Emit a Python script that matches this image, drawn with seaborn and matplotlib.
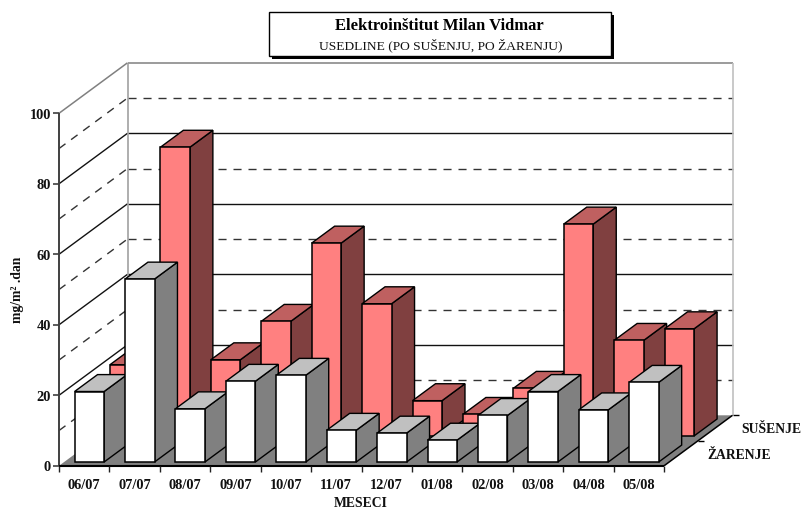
import matplotlib
matplotlib.use("Agg")
import matplotlib.pyplot as plt
from matplotlib.patches import Polygon, Rectangle
import pandas as pd
import seaborn as sns

months = ["06/07", "07/07", "08/07", "09/07", "10/07", "11/07",
          "12/07", "01/08", "02/08", "03/08", "04/08", "05/08"]
susenje = [20.2, 81.9, 21.6, 32.5, 54.7, 37.5, 10.0, 6.1, 13.5, 60.1, 27.1, 30.4]
zarenje = [20.0, 51.9, 15.1, 22.9, 24.6, 9.0, 8.2, 6.2, 13.2, 20.0, 14.8, 22.6]
y_major = [0, 20, 40, 60, 80, 100]
y_minor = [10, 30, 50, 70, 90]
series_names = ["SUŠENJE", "ŽARENJE"]
title = "Elektroinštitut Milan Vidmar"
subtitle = "USEDLINE (PO SUŠENJU, PO ŽARENJU)"
xlabel = "MESECI"
ylabel = "mg/m² .dan"

sns.set_theme(style="white")
plt.rcParams["font.family"] = ["Liberation Serif", "DejaVu Serif"]

W, H = 801, 510
X0, UX = 59.0, 50.42     # pixel of x=0, pixels per month
Y0, UY = 466.8, 3.525    # pixel of value 0, pixels per unit
DPX, DPY = 68.5, 50.5    # depth of the floor in pixels
DX, DY = DPX / UX, DPY / UY
BAR_W = 0.585
BAR_DEPTH = 0.335

fig = plt.figure(figsize=(W / 100, H / 100), dpi=100)
ax = fig.add_axes([0, 0, 1, 1])


def px(x, y):
    """pixel position in the picture -> data position"""
    return (x - X0) / UX, (Y0 - y) / UY


def P(x, v, d=0.0):
    """category position, value and depth fraction -> data position"""
    return x + d * DX, v + d * DY


n = len(months)

# floor
ax.add_patch(Polygon([P(0, 0), P(n, 0), P(n, 0, 1), P(0, 0, 1)],
                     closed=True, fc="#808080", ec="none", zorder=1))


def line(a, b, **kw):
    kw.setdefault("solid_capstyle", "butt")
    ax.plot([a[0], b[0]], [a[1], b[1]], **kw)


# grid on side wall and back wall
for v in y_minor:
    st = dict(color="#333333", lw=1.0, ls=(0, (5.8, 5)), zorder=1.2)
    line(P(0, v), P(0, v, 1), **st)
    line(P(0, v, 1), P(n, v, 1), **st)
for v in y_major[1:-1]:
    st = dict(color="#111111", lw=1.0, zorder=1.2)
    line(P(0, v), P(0, v, 1), **st)
    line(P(0, v, 1), P(n, v, 1), **st)
top = y_major[-1]
line(P(0, top), P(0, top, 1), color="#808080", lw=1.1, zorder=1.3)
line(P(0, top, 1), P(n, top, 1), color="#808080", lw=1.1, zorder=1.3)
line(P(0, 0, 1), P(0, top, 1), color="#999999", lw=1.1, zorder=1.3)
line(P(n, 0, 1), P(n, top, 1), color="#c0c0c0", lw=1.2, zorder=1.3)

# bars, back row first
rows = [
    (susenje, 0.592, "#FF8080", "#BF6060", "#804040", 2.0),
    (zarenje, 0.075, "#FFFFFF", "#C0C0C0", "#808080", 3.0),
]
for values, d0, front, topc, side, z in rows:
    ox, oy = P(0, 0, d0)
    df = pd.DataFrame({"pos": [i + 0.5 + ox for i in range(n)], "value": values})
    before = len(ax.patches)
    sns.barplot(data=df, x="pos", y="value", native_scale=True, orient="x",
                width=BAR_W, color=front, saturation=1, errorbar=None,
                edgecolor="black", linewidth=1.1, ax=ax, legend=False)
    for i, r in enumerate(ax.patches[before:]):
        r.set_y(oy)
        r.set_zorder(z + i * 0.01 + 0.002)
        x, y, w, h = r.get_x(), r.get_y(), r.get_width(), r.get_height()
        dx, dy = BAR_DEPTH * DX, BAR_DEPTH * DY
        ax.add_patch(Polygon([(x + w, y), (x + w + dx, y + dy),
                              (x + w + dx, y + h + dy), (x + w, y + h)],
                             closed=True, fc=side, ec="black", lw=1.0,
                             zorder=z + i * 0.01))
        ax.add_patch(Polygon([(x, y + h), (x + dx, y + h + dy),
                              (x + w + dx, y + h + dy), (x + w, y + h)],
                             closed=True, fc=topc, ec="black", lw=1.0,
                             zorder=z + i * 0.01 + 0.001))

# front axes
line(P(0, 0), P(0, top), color="#404040", lw=1.4, zorder=4)
line(P(0, 0), P(n, 0), color="black", lw=1.5, zorder=4)
line(P(n, 0), P(n, 0, 1), color="black", lw=1.1, zorder=4)

tick_font = dict(fontsize=10.4, fontweight="bold", color="#111111")
label_font = dict(fontsize=9.8, fontweight="bold", color="#111111")
for v in y_major:
    x, y = P(0, v)
    a = px(X0 - 6, 0)[0]
    line((a, y), (x, y), color="#404040", lw=1.2, zorder=4)
    ax.text(px(51, 0)[0], y - 0.25, str(v), ha="right", va="center", **tick_font)
for i in range(n + 1):
    line((i, 0), (i, px(0, Y0 + 6)[1]), color="#222222", lw=1.0, zorder=4)
for i, m in enumerate(months):
    ax.text(i + 0.5, px(0, 486)[1], m, ha="center", va="center", **tick_font)

# depth ticks and labels
for d, name, lx, ly in zip([1.0, 0.5], series_names, [741.5, 707], [429.5, 455.5]):
    a = P(n, 0, d)
    b = (a[0] + 6 / UX, a[1])
    line(a, b, color="black", lw=1.0, zorder=4)
    ax.text(*px(lx, ly), name, ha="left", va="center", **label_font)

ax.text(*px(361, 504), xlabel, ha="center", va="center", **label_font)
ax.text(*px(17, 290), ylabel, ha="center", va="center", rotation=90, **label_font)

# title box
bx0, by0, bx1, by1 = 268.8, 13, 610.8, 57
sx, sy = px(bx0 + 3, by1 + 3)
ex, ey = px(bx1 + 3, by0 + 3)
ax.add_patch(Rectangle((sx, sy), ex - sx, ey - sy, fc="black", ec="none", zorder=5))
sx, sy = px(bx0, by1)
ex, ey = px(bx1, by0)
ax.add_patch(Rectangle((sx, sy), ex - sx, ey - sy, fc="white", ec="black", lw=1.0, zorder=6))
ax.text(*px(439, 26.5), title, ha="center", va="center", fontsize=12,
        fontweight="bold", color="black", zorder=7)
ax.text(*px(441, 45), subtitle, ha="center", va="center", fontsize=9.7,
        color="#111111", zorder=7)

ax.set_xlim(px(0, 0)[0], px(W, 0)[0])
ax.set_ylim(px(0, H)[1], px(0, 0)[1])
ax.set_xlabel("")
ax.set_ylabel("")
ax.axis("off")
fig.savefig("out.png", dpi=100)
